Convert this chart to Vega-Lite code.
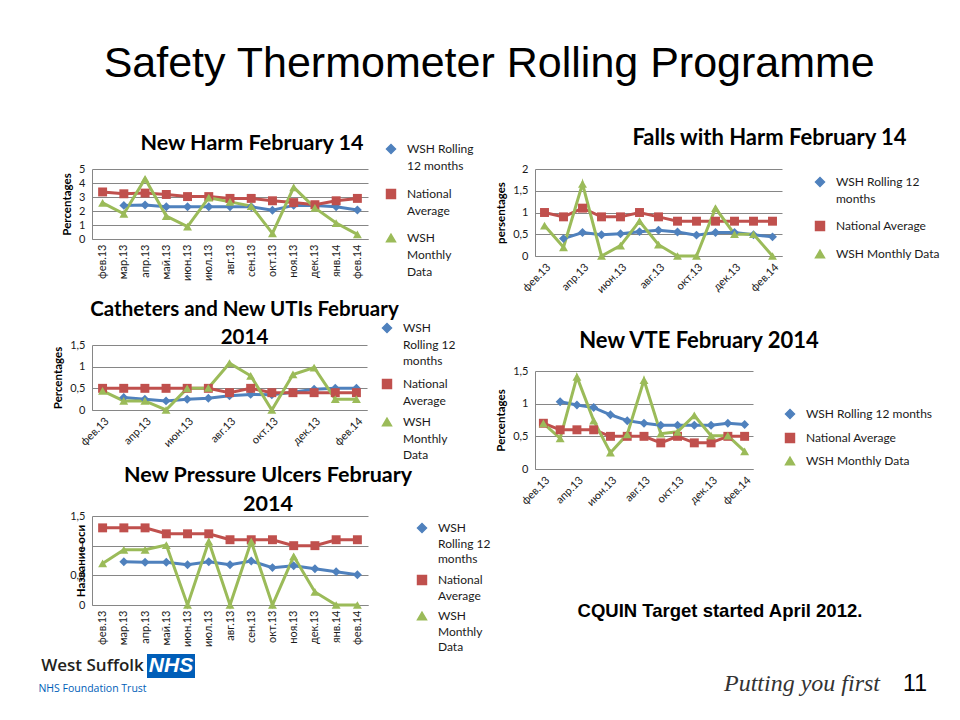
{
  "$schema": "https://vega.github.io/schema/vega-lite/v6.json",
  "background": "white",
  "padding": {"left": 38, "top": 43, "right": 5, "bottom": 5},
  "title": {"text": "Safety Thermometer Rolling Programme", "font": "Liberation Sans, Arial", "fontSize": 43, "fontWeight": "normal", "color": "#000000", "anchor": "middle", "frame": "bounds", "offset": 41},
  "config": {
    "font": "Lato",
    "view": {"stroke": null},
    "axis": {"labelFont": "Lato", "labelFontSize": 11, "labelColor": "#1a1a1a", "titleFont": "Lato", "titleFontSize": 11.5, "titleFontWeight": "bold", "titleColor": "#000000", "domainColor": "#868686", "domainWidth": 1, "gridColor": "#868686", "gridWidth": 1, "ticks": false, "tickSize": 0, "labelPadding": 7, "titlePadding": 6},
    "axisX": {"grid": false, "labelPadding": 5},
    "legend": {"labelFont": "Lato", "labelFontSize": 12, "labelColor": "#1a1a1a", "symbolSize": 80, "labelOffset": 10, "padding": 0},
    "title": {"font": "Lato", "fontSize": 21.5, "fontWeight": "bold", "color": "#000000", "anchor": "middle"}
  },
  "datasets": {
    "harm": [
      {"month": "фев.13", "WSH Rolling 12 months": null, "National Average": 3.36, "WSH Monthly Data": 2.58},
      {"month": "мар.13", "WSH Rolling 12 months": 2.4, "National Average": 3.23, "WSH Monthly Data": 1.8},
      {"month": "апр.13", "WSH Rolling 12 months": 2.43, "National Average": 3.28, "WSH Monthly Data": 4.3},
      {"month": "май.13", "WSH Rolling 12 months": 2.3, "National Average": 3.18, "WSH Monthly Data": 1.64},
      {"month": "июн.13", "WSH Rolling 12 months": 2.3, "National Average": 3.03, "WSH Monthly Data": 0.88},
      {"month": "июл.13", "WSH Rolling 12 months": 2.3, "National Average": 3.03, "WSH Monthly Data": 2.95},
      {"month": "авг.13", "WSH Rolling 12 months": 2.3, "National Average": 2.9, "WSH Monthly Data": 2.65},
      {"month": "сен.13", "WSH Rolling 12 months": 2.3, "National Average": 2.9, "WSH Monthly Data": 2.35},
      {"month": "окт.13", "WSH Rolling 12 months": 2.05, "National Average": 2.73, "WSH Monthly Data": 0.4},
      {"month": "ноя.13", "WSH Rolling 12 months": 2.4, "National Average": 2.6, "WSH Monthly Data": 3.69},
      {"month": "дек.13", "WSH Rolling 12 months": 2.4, "National Average": 2.45, "WSH Monthly Data": 2.22},
      {"month": "янв.14", "WSH Rolling 12 months": 2.3, "National Average": 2.73, "WSH Monthly Data": 1.14},
      {"month": "фев.14", "WSH Rolling 12 months": 2.07, "National Average": 2.9, "WSH Monthly Data": 0.33}
    ],
    "falls": [
      {"month": "фев.13", "WSH Rolling 12 months": null, "National Average": 1.0, "WSH Monthly Data": 0.7},
      {"month": "мар.13", "WSH Rolling 12 months": 0.4, "National Average": 0.9, "WSH Monthly Data": 0.2},
      {"month": "апр.13", "WSH Rolling 12 months": 0.54, "National Average": 1.1, "WSH Monthly Data": 1.66},
      {"month": "май.13", "WSH Rolling 12 months": 0.49, "National Average": 0.9, "WSH Monthly Data": 0},
      {"month": "июн.13", "WSH Rolling 12 months": 0.51, "National Average": 0.9, "WSH Monthly Data": 0.24},
      {"month": "июл.13", "WSH Rolling 12 months": 0.56, "National Average": 1.0, "WSH Monthly Data": 0.8},
      {"month": "авг.13", "WSH Rolling 12 months": 0.59, "National Average": 0.9, "WSH Monthly Data": 0.26},
      {"month": "сен.13", "WSH Rolling 12 months": 0.55, "National Average": 0.8, "WSH Monthly Data": 0},
      {"month": "окт.13", "WSH Rolling 12 months": 0.48, "National Average": 0.8, "WSH Monthly Data": 0},
      {"month": "ноя.13", "WSH Rolling 12 months": 0.54, "National Average": 0.8, "WSH Monthly Data": 1.1},
      {"month": "дек.13", "WSH Rolling 12 months": 0.54, "National Average": 0.8, "WSH Monthly Data": 0.5},
      {"month": "янв.14", "WSH Rolling 12 months": 0.49, "National Average": 0.8, "WSH Monthly Data": 0.5},
      {"month": "фев.14", "WSH Rolling 12 months": 0.44, "National Average": 0.8, "WSH Monthly Data": 0}
    ],
    "cath": [
      {"month": "фев.13", "WSH Rolling 12 months": null, "National Average": 0.5, "WSH Monthly Data": 0.44},
      {"month": "мар.13", "WSH Rolling 12 months": 0.29, "National Average": 0.5, "WSH Monthly Data": 0.21},
      {"month": "апр.13", "WSH Rolling 12 months": 0.25, "National Average": 0.5, "WSH Monthly Data": 0.21},
      {"month": "май.13", "WSH Rolling 12 months": 0.21, "National Average": 0.5, "WSH Monthly Data": 0},
      {"month": "июн.13", "WSH Rolling 12 months": 0.25, "National Average": 0.5, "WSH Monthly Data": 0.5},
      {"month": "июл.13", "WSH Rolling 12 months": 0.27, "National Average": 0.5, "WSH Monthly Data": 0.51},
      {"month": "авг.13", "WSH Rolling 12 months": 0.33, "National Average": 0.4, "WSH Monthly Data": 1.08},
      {"month": "сен.13", "WSH Rolling 12 months": 0.36, "National Average": 0.5, "WSH Monthly Data": 0.79},
      {"month": "окт.13", "WSH Rolling 12 months": 0.35, "National Average": 0.4, "WSH Monthly Data": 0},
      {"month": "ноя.13", "WSH Rolling 12 months": 0.41, "National Average": 0.4, "WSH Monthly Data": 0.82},
      {"month": "дек.13", "WSH Rolling 12 months": 0.48, "National Average": 0.4, "WSH Monthly Data": 0.98},
      {"month": "янв.14", "WSH Rolling 12 months": 0.5, "National Average": 0.4, "WSH Monthly Data": 0.25},
      {"month": "фев.14", "WSH Rolling 12 months": 0.5, "National Average": 0.4, "WSH Monthly Data": 0.25}
    ],
    "vte": [
      {"month": "фев.13", "WSH Rolling 12 months": null, "National Average": 0.7, "WSH Monthly Data": 0.7},
      {"month": "мар.13", "WSH Rolling 12 months": 1.03, "National Average": 0.6, "WSH Monthly Data": 0.47},
      {"month": "апр.13", "WSH Rolling 12 months": 0.98, "National Average": 0.6, "WSH Monthly Data": 1.41},
      {"month": "май.13", "WSH Rolling 12 months": 0.94, "National Average": 0.6, "WSH Monthly Data": 0.74},
      {"month": "июн.13", "WSH Rolling 12 months": 0.83, "National Average": 0.5, "WSH Monthly Data": 0.25},
      {"month": "июл.13", "WSH Rolling 12 months": 0.74, "National Average": 0.5, "WSH Monthly Data": 0.53},
      {"month": "авг.13", "WSH Rolling 12 months": 0.7, "National Average": 0.5, "WSH Monthly Data": 1.36},
      {"month": "сен.13", "WSH Rolling 12 months": 0.67, "National Average": 0.4, "WSH Monthly Data": 0.54},
      {"month": "окт.13", "WSH Rolling 12 months": 0.67, "National Average": 0.5, "WSH Monthly Data": 0.57},
      {"month": "ноя.13", "WSH Rolling 12 months": 0.67, "National Average": 0.4, "WSH Monthly Data": 0.82},
      {"month": "дек.13", "WSH Rolling 12 months": 0.67, "National Average": 0.4, "WSH Monthly Data": 0.51},
      {"month": "янв.14", "WSH Rolling 12 months": 0.7, "National Average": 0.5, "WSH Monthly Data": 0.51},
      {"month": "фев.14", "WSH Rolling 12 months": 0.68, "National Average": 0.5, "WSH Monthly Data": 0.27}
    ],
    "pres": [
      {"month": "фев.13", "WSH Rolling 12 months": null, "National Average": 1.3, "WSH Monthly Data": 0.7},
      {"month": "мар.13", "WSH Rolling 12 months": 0.73, "National Average": 1.3, "WSH Monthly Data": 0.93},
      {"month": "апр.13", "WSH Rolling 12 months": 0.72, "National Average": 1.3, "WSH Monthly Data": 0.93},
      {"month": "май.13", "WSH Rolling 12 months": 0.72, "National Average": 1.2, "WSH Monthly Data": 1.01},
      {"month": "июн.13", "WSH Rolling 12 months": 0.68, "National Average": 1.2, "WSH Monthly Data": 0},
      {"month": "июл.13", "WSH Rolling 12 months": 0.73, "National Average": 1.2, "WSH Monthly Data": 1.07},
      {"month": "авг.13", "WSH Rolling 12 months": 0.68, "National Average": 1.1, "WSH Monthly Data": 0},
      {"month": "сен.13", "WSH Rolling 12 months": 0.74, "National Average": 1.1, "WSH Monthly Data": 1.07},
      {"month": "окт.13", "WSH Rolling 12 months": 0.63, "National Average": 1.1, "WSH Monthly Data": 0},
      {"month": "ноя.13", "WSH Rolling 12 months": 0.66, "National Average": 1.0, "WSH Monthly Data": 0.82},
      {"month": "дек.13", "WSH Rolling 12 months": 0.61, "National Average": 1.0, "WSH Monthly Data": 0.22},
      {"month": "янв.14", "WSH Rolling 12 months": 0.56, "National Average": 1.1, "WSH Monthly Data": 0},
      {"month": "фев.14", "WSH Rolling 12 months": 0.51, "National Average": 1.1, "WSH Monthly Data": 0}
    ]
  },
  "bounds": "flush",
  "spacing": 443,
  "resolve": {"scale": {"color": "independent", "shape": "independent"}, "legend": {"color": "independent", "shape": "independent"}},
  "hconcat": [
    {
      "bounds": "flush",
      "spacing": 106,
      "resolve": {"scale": {"color": "independent", "shape": "independent"}, "legend": {"color": "independent", "shape": "independent"}},
      "vconcat": [
        {
          "width": 276, "height": 70,
          "title": {"text": "New Harm February 14", "dx": 22, "offset": -11},
          "data": {"name": "harm"},
          "transform": [{"fold": ["WSH Rolling 12 months", "National Average", "WSH Monthly Data"], "as": ["series", "value"]}],
          "encoding": {
            "x": {"field": "month", "type": "ordinal", "sort": ["фев.13","мар.13","апр.13","май.13","июн.13","июл.13","авг.13","сен.13","окт.13","ноя.13","дек.13","янв.14","фев.14"], "title": null, "axis": {"labelAngle": -90}},
            "y": {"field": "value", "type": "quantitative", "scale": {"domain": [0, 5]}, "axis": {"values": [0, 1, 2, 3, 4, 5], "title": "Percentages", "labelExpr": "replace(toString(datum.value), '.', ',')"}},
            "color": {"field": "series", "type": "nominal", "scale": {"domain": ["WSH Rolling 12 months", "National Average", "WSH Monthly Data"], "range": ["#4F81BD", "#C0504D", "#9BBB59"]},
              "legend": {"title": null, "orient": "none", "legendX": 293, "legendY": -26, "rowPadding": 14, "labelExpr": "datum.label == 'WSH Rolling 12 months' ? ['WSH Rolling', '12 months'] : datum.label == 'National Average' ? ['National', 'Average'] : ['WSH', 'Monthly', 'Data']", "encode": {"labels": {"update": {"lineHeight": {"value": 17}}}}}}
          },
          "layer": [
            {"mark": {"type": "line", "strokeWidth": 3}},
            {"mark": {"type": "point", "filled": true, "size": 80, "opacity": 1},
              "encoding": {"shape": {"field": "series", "type": "nominal", "scale": {"domain": ["WSH Rolling 12 months", "National Average", "WSH Monthly Data"], "range": ["diamond", "square", "triangle-up"]},
                "legend": {"title": null, "orient": "none", "legendX": 293, "legendY": -26, "rowPadding": 14, "labelExpr": "datum.label == 'WSH Rolling 12 months' ? ['WSH Rolling', '12 months'] : datum.label == 'National Average' ? ['National', 'Average'] : ['WSH', 'Monthly', 'Data']", "encode": {"labels": {"update": {"lineHeight": {"value": 17}}}}}}}}
          ]
        },
        {
          "width": 275, "height": 65,
          "title": {"text": ["Catheters and New UTIs February", "2014"], "dx": 15, "offset": -26, "lineHeight": 28, "fontSize": 20.5},
          "data": {"name": "cath"},
          "transform": [{"fold": ["WSH Rolling 12 months", "National Average", "WSH Monthly Data"], "as": ["series", "value"]}],
          "encoding": {
            "x": {"field": "month", "type": "ordinal", "sort": ["фев.13","мар.13","апр.13","май.13","июн.13","июл.13","авг.13","сен.13","окт.13","ноя.13","дек.13","янв.14","фев.14"], "title": null, "axis": {"labelAngle": -45, "values": ["фев.13","апр.13","июн.13","авг.13","окт.13","дек.13","фев.14"]}},
            "y": {"field": "value", "type": "quantitative", "scale": {"domain": [0, 1.5]}, "axis": {"values": [0, 0.5, 1, 1.5], "title": "Percentages", "labelExpr": "replace(toString(datum.value), '.', ',')"}},
            "color": {"field": "series", "type": "nominal", "scale": {"domain": ["WSH Rolling 12 months", "National Average", "WSH Monthly Data"], "range": ["#4F81BD", "#C0504D", "#9BBB59"]},
              "legend": {"title": null, "orient": "none", "legendX": 289, "legendY": -23, "rowPadding": 8, "labelExpr": "datum.label == 'WSH Rolling 12 months' ? ['WSH', 'Rolling 12', 'months'] : datum.label == 'National Average' ? ['National', 'Average'] : ['WSH', 'Monthly', 'Data']", "encode": {"labels": {"update": {"lineHeight": {"value": 16.7}}}}}}
          },
          "layer": [
            {"mark": {"type": "line", "strokeWidth": 3}},
            {"mark": {"type": "point", "filled": true, "size": 80, "opacity": 1},
              "encoding": {"shape": {"field": "series", "type": "nominal", "scale": {"domain": ["WSH Rolling 12 months", "National Average", "WSH Monthly Data"], "range": ["diamond", "square", "triangle-up"]},
                "legend": {"title": null, "orient": "none", "legendX": 289, "legendY": -23, "rowPadding": 8, "labelExpr": "datum.label == 'WSH Rolling 12 months' ? ['WSH', 'Rolling 12', 'months'] : datum.label == 'National Average' ? ['National', 'Average'] : ['WSH', 'Monthly', 'Data']", "encode": {"labels": {"update": {"lineHeight": {"value": 16.7}}}}}}}}
          ]
        },
        {
          "bounds": "flush",
          "spacing": 49,
          "resolve": {"scale": {"color": "independent", "shape": "independent"}, "legend": {"color": "independent", "shape": "independent"}},
          "vconcat": [
            {
              "width": 276, "height": 89,
              "title": {"text": ["New Pressure Ulcers February", "2014"], "dx": 38, "offset": -5, "lineHeight": 29},
              "data": {"name": "pres"},
              "transform": [{"fold": ["WSH Rolling 12 months", "National Average", "WSH Monthly Data"], "as": ["series", "value"]}],
              "encoding": {
                "x": {"field": "month", "type": "ordinal", "sort": ["фев.13","мар.13","апр.13","май.13","июн.13","июл.13","авг.13","сен.13","окт.13","ноя.13","дек.13","янв.14","фев.14"], "title": null, "axis": {"labelAngle": -90}},
                "y": {"field": "value", "type": "quantitative", "scale": {"domain": [0, 1.5]}, "axis": {"values": [0, 0.5, 1, 1.5], "title": "Название оси", "titlePadding": -17, "labelExpr": "replace(toString(datum.value), '.', ',')"}},
                "color": {"field": "series", "type": "nominal", "scale": {"domain": ["WSH Rolling 12 months", "National Average", "WSH Monthly Data"], "range": ["#4F81BD", "#C0504D", "#9BBB59"]},
                  "legend": {"title": null, "orient": "none", "legendX": 324, "legendY": 6, "rowPadding": 7, "labelExpr": "datum.label == 'WSH Rolling 12 months' ? ['WSH', 'Rolling 12', 'months'] : datum.label == 'National Average' ? ['National', 'Average'] : ['WSH', 'Monthly', 'Data']", "encode": {"labels": {"update": {"lineHeight": {"value": 15.5}}}}}}
              },
              "layer": [
                {"mark": {"type": "line", "strokeWidth": 3}},
                {"mark": {"type": "point", "filled": true, "size": 80, "opacity": 1},
                  "encoding": {"shape": {"field": "series", "type": "nominal", "scale": {"domain": ["WSH Rolling 12 months", "National Average", "WSH Monthly Data"], "range": ["diamond", "square", "triangle-up"]},
                    "legend": {"title": null, "orient": "none", "legendX": 324, "legendY": 6, "rowPadding": 7, "labelExpr": "datum.label == 'WSH Rolling 12 months' ? ['WSH', 'Rolling 12', 'months'] : datum.label == 'National Average' ? ['National', 'Average'] : ['WSH', 'Monthly', 'Data']", "encode": {"labels": {"update": {"lineHeight": {"value": 15.5}}}}}}}}
              ]
            },
            {
              "bounds": "flush",
              "spacing": 54,
              "hconcat": [
                {
                  "width": 1, "height": 46,
                  "layer": [
                    {"data": {"values": [{"t": "West Suffolk", "line": "a"}]}, "mark": {"type": "text", "font": "Open Sans", "fontSize": 17, "fontWeight": 600, "color": "#231F20"},
                      "encoding": {"text": {"field": "t"}, "y": {"field": "line", "type": "nominal", "scale": {"type": "point", "domain": ["a", "b"]}, "axis": null}}},
                    {"data": {"values": [{"t": "NHS Foundation Trust", "line": "b"}]}, "mark": {"type": "text", "font": "Open Sans", "fontSize": 10.5, "color": "#005EB8"},
                      "encoding": {"text": {"field": "t"}, "y": {"field": "line", "type": "nominal", "scale": {"type": "point", "domain": ["a", "b"]}, "axis": null}}}
                  ]
                },
                {
                  "width": 48, "height": 24,
                  "data": {"values": [{"t": "NHS"}]},
                  "layer": [
                    {"mark": {"type": "rect", "color": "#005EB8"}},
                    {"mark": {"type": "text", "font": "Liberation Sans", "fontSize": 21, "fontWeight": "bold", "fontStyle": "italic", "color": "white"}, "encoding": {"text": {"field": "t"}}}
                  ]
                }
              ]
            }
          ]
        }
      ]
    },
    {
      "bounds": "flush",
      "spacing": 115,
      "resolve": {"scale": {"color": "independent", "shape": "independent"}, "legend": {"color": "independent", "shape": "independent"}},
      "vconcat": [
        {
          "width": 247, "height": 87,
          "title": {"text": "Falls with Harm February 14", "dx": 111, "offset": 13, "fontSize": 22},
          "data": {"name": "falls"},
          "transform": [{"fold": ["WSH Rolling 12 months", "National Average", "WSH Monthly Data"], "as": ["series", "value"]}],
          "encoding": {
            "x": {"field": "month", "type": "ordinal", "sort": ["фев.13","мар.13","апр.13","май.13","июн.13","июл.13","авг.13","сен.13","окт.13","ноя.13","дек.13","янв.14","фев.14"], "title": null, "axis": {"labelAngle": -45, "values": ["фев.13","апр.13","июн.13","авг.13","окт.13","дек.13","фев.14"]}},
            "y": {"field": "value", "type": "quantitative", "scale": {"domain": [0, 2]}, "axis": {"values": [0, 0.5, 1, 1.5, 2], "title": "persentages", "labelExpr": "replace(toString(datum.value), '.', ',')"}},
            "color": {"field": "series", "type": "nominal", "scale": {"domain": ["WSH Rolling 12 months", "National Average", "WSH Monthly Data"], "range": ["#4F81BD", "#C0504D", "#9BBB59"]},
              "legend": {"title": null, "orient": "none", "legendX": 279, "legendY": 7, "rowPadding": 13, "labelExpr": "datum.label == 'WSH Rolling 12 months' ? ['WSH Rolling 12', 'months'] : datum.label", "encode": {"labels": {"update": {"lineHeight": {"value": 17}}}}}}
          },
          "layer": [
            {"mark": {"type": "line", "strokeWidth": 3}},
            {"mark": {"type": "point", "filled": true, "size": 80, "opacity": 1},
              "encoding": {"shape": {"field": "series", "type": "nominal", "scale": {"domain": ["WSH Rolling 12 months", "National Average", "WSH Monthly Data"], "range": ["diamond", "square", "triangle-up"]},
                "legend": {"title": null, "orient": "none", "legendX": 279, "legendY": 7, "rowPadding": 13, "labelExpr": "datum.label == 'WSH Rolling 12 months' ? ['WSH Rolling 12', 'months'] : datum.label", "encode": {"labels": {"update": {"lineHeight": {"value": 17}}}}}}}}
          ]
        },
        {
          "width": 218, "height": 98,
          "title": {"text": "New VTE February 2014", "dx": 55, "offset": 12, "fontSize": 22},
          "data": {"name": "vte"},
          "transform": [{"fold": ["WSH Rolling 12 months", "National Average", "WSH Monthly Data"], "as": ["series", "value"]}],
          "encoding": {
            "x": {"field": "month", "type": "ordinal", "sort": ["фев.13","мар.13","апр.13","май.13","июн.13","июл.13","авг.13","сен.13","окт.13","ноя.13","дек.13","янв.14","фев.14"], "title": null, "axis": {"labelAngle": -45, "values": ["фев.13","апр.13","июн.13","авг.13","окт.13","дек.13","фев.14"]}},
            "y": {"field": "value", "type": "quantitative", "scale": {"domain": [0, 1.5]}, "axis": {"values": [0, 0.5, 1, 1.5], "title": "Percentages", "labelExpr": "replace(toString(datum.value), '.', ',')"}},
            "color": {"field": "series", "type": "nominal", "scale": {"domain": ["WSH Rolling 12 months", "National Average", "WSH Monthly Data"], "range": ["#4F81BD", "#C0504D", "#9BBB59"]},
              "legend": {"title": null, "orient": "none", "legendX": 249, "legendY": 37, "rowPadding": 8}}
          },
          "layer": [
            {"mark": {"type": "line", "strokeWidth": 3}},
            {"mark": {"type": "point", "filled": true, "size": 80, "opacity": 1},
              "encoding": {"shape": {"field": "series", "type": "nominal", "scale": {"domain": ["WSH Rolling 12 months", "National Average", "WSH Monthly Data"], "range": ["diamond", "square", "triangle-up"]},
                "legend": {"title": null, "orient": "none", "legendX": 249, "legendY": 37, "rowPadding": 8}}}}
          ]
        },
        {
          "bounds": "flush",
          "spacing": 31,
          "vconcat": [
            {
              "width": 370, "height": 54,
              "data": {"values": [{"t": "CQUIN Target started April 2012."}]},
              "mark": {"type": "text", "font": "Liberation Sans, Arial", "fontSize": 18.5, "fontWeight": "bold", "color": "#000000"},
              "encoding": {"text": {"field": "t"}}
            },
            {
              "bounds": "flush",
              "spacing": 25,
              "hconcat": [
                {
                  "width": 345, "height": 30,
                  "data": {"values": [{"t": "Putting you first"}]},
                  "mark": {"type": "text", "font": "Liberation Serif", "fontSize": 24, "fontStyle": "italic", "color": "#333333", "align": "right"},
                  "encoding": {"text": {"field": "t"}, "x": {"value": "width"}}
                },
                {
                  "width": 20, "height": 30,
                  "data": {"values": [{"t": "11"}]},
                  "mark": {"type": "text", "font": "Liberation Sans", "fontSize": 23, "color": "#000000"},
                  "encoding": {"text": {"field": "t"}}
                }
              ]
            }
          ]
        }
      ]
    }
  ]
}
